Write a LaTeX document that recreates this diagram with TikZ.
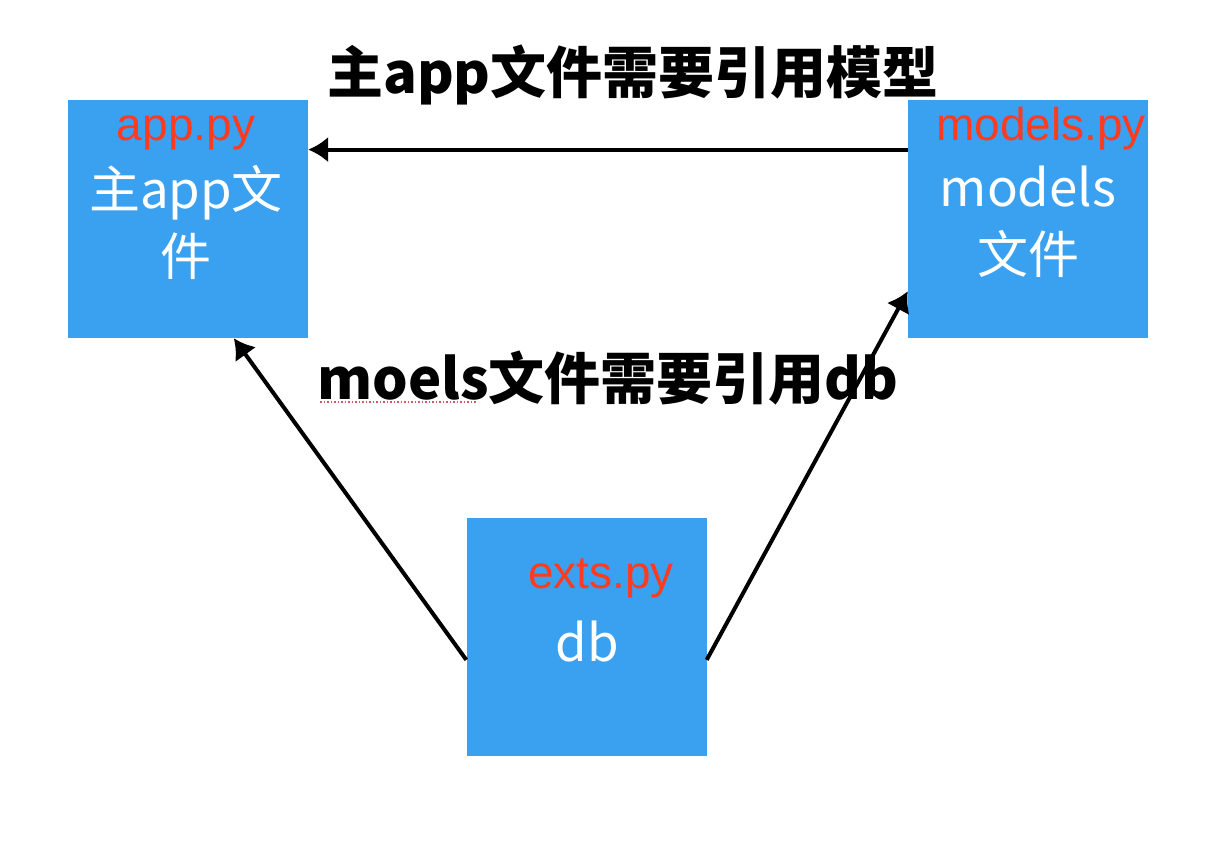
\documentclass[tikz,border=0pt]{standalone}
\usepackage{fontspec}
\usetikzlibrary{arrows.meta}
\newfontfamily\cjk{Noto Sans CJK SC}
\newfontfamily\lat{Liberation Sans}
\definecolor{boxblue}{RGB}{58,160,240}
\definecolor{lblred}{RGB}{255,59,30}
\definecolor{spellred}{RGB}{220,80,110}
\begin{document}
\begin{tikzpicture}[x=1pt,y=-1pt,
  box/.style={fill=boxblue, draw=none, minimum width=240pt, minimum height=238pt, inner sep=0pt},
  redlbl/.style={text=lblred, font=\lat\fontsize{46}{48}\selectfont, inner sep=0pt},
  whitelbl/.style={text=white, font=\cjk\fontsize{51}{67}\selectfont, align=center, inner sep=0pt},
  toplbl/.style={text=black, font=\cjk\bfseries\fontsize{56}{60}\selectfont, inner sep=0pt},
  arr/.style={draw=black, line width=4pt, -{Latex[length=20pt,width=26pt]}}]
\useasboundingbox[fill=white] (0,0) rectangle (1216,860);
\node[box] (app) at (188,219) {};
\node[box] (models) at (1028,219) {};
\node[box] (db) at (586.5,636.5) {};
\node[redlbl] (apppy) at (186,133) {app.py};
\node[redlbl] (modelspy) at (1041,129) {models.py};
\node[redlbl] (extspy) at (601,578) {exts.py};
\node[whitelbl] (appname) at (186,222) {主app文\\件};
\node[whitelbl] (modelsname) at (1028,222) {models\\文件};
\node[whitelbl] (dbname) at (587,642) {db};
\node[toplbl] (toptext) at (633,75) {主app文件需要引用模型};
\node[toplbl] (midtext) at (608,378) {moels文件需要引用db};
\coordinate (sp1) at (320,402);
\coordinate (sp2) at (476,402);
\draw[spellred, line width=1.5pt, dotted] (sp1) -- (sp2);
\draw[arr] (models.150) -- (app.30);
\draw[arr] (db.191) -- (app.-69);
\draw[arr] (db.-11) -- (models.211);
\end{tikzpicture}
\end{document}
